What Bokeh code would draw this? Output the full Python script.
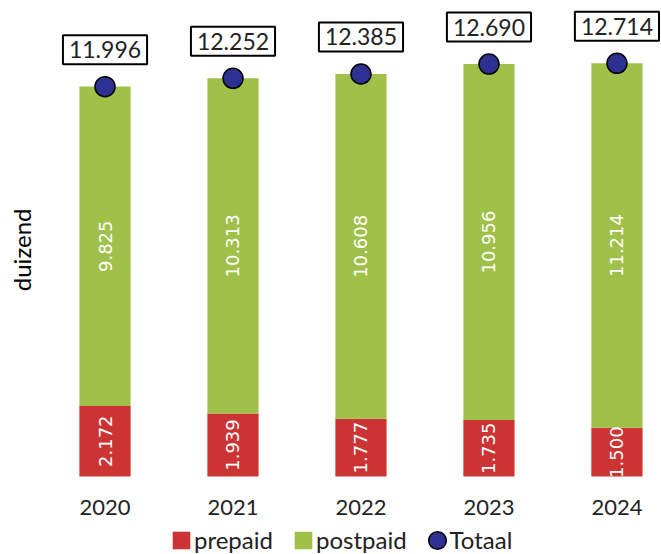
from bokeh.plotting import figure
from bokeh.models import ColumnDataSource, Legend, LegendItem, Title, FixedTicker, Range1d
from bokeh.core.properties import value
from bokeh.embed import file_html
from bokeh.resources import INLINE
import math

years = ["2020", "2021", "2022", "2023", "2024"]
prepaid = [2172, 1939, 1777, 1735, 1500]
postpaid = [9825, 10313, 10608, 10956, 11214]
totaal = [11996, 12252, 12385, 12690, 12714]

fmt = lambda v: f"{v:,}".replace(",", ".")

xs = list(range(len(years)))
src = ColumnDataSource(dict(
    x=xs,
    pre=prepaid,
    post=postpaid,
    top=[a + b for a, b in zip(prepaid, postpaid)],
    tot=totaal,
    pre_mid=[a / 2 for a in prepaid],
    post_mid=[a + b / 2 for a, b in zip(prepaid, postpaid)],
    pre_lbl=[fmt(v) for v in prepaid],
    post_lbl=[fmt(v) for v in postpaid],
    tot_lbl=[fmt(v) for v in totaal],
))

FONT = "Lato"
BAR_FONT = "DejaVu Sans"
RED = "#CC3333"
GREEN = "#A0C04A"
NAVY = "#2E3192"

p = figure(width=661, height=554, output_backend="svg", toolbar_location=None,
           x_range=Range1d(-0.504, 4.348), y_range=Range1d(-2400, 14646),
           min_border_left=40, min_border_right=0, min_border_top=0, min_border_bottom=0)

r_pre = p.vbar(x="x", bottom=0, top="pre", width=0.4, source=src, fill_color=RED, line_color=None)
r_post = p.vbar(x="x", bottom="pre", top="top", width=0.4, source=src, fill_color=GREEN, line_color=None)
r_tot = p.ellipse(x="x", y="tot", source=src, width=20, height=20,
                  width_units="screen", height_units="screen",
                  fill_color=NAVY, line_color="black", line_width=1.5)

p.text(x="x", y="pre_mid", text="pre_lbl", source=src, angle=math.pi / 2,
       text_align="center", text_baseline="middle", text_color="white",
       text_font=value(BAR_FONT), text_font_size="18px")
p.text(x="x", y="post_mid", text="post_lbl", source=src, angle=math.pi / 2,
       text_align="center", text_baseline="middle", text_color="white",
       text_font=value(BAR_FONT), text_font_size="18px")

p.text(x="x", y="tot", text="tot_lbl", source=src, y_offset=-37,
       text_align="center", text_baseline="middle",
       text_font=value(FONT), text_font_size="23px", text_color="#222222",
       background_fill_color="white", border_line_color="black",
       border_line_width=2, padding=6)

p.yaxis.visible = False
p.xgrid.visible = False
p.ygrid.visible = False
p.outline_line_color = None

xa = p.xaxis[0]
xa.fixed_location = 0
xa.ticker = FixedTicker(ticks=xs)
xa.major_label_overrides = {i: y for i, y in zip(xs, years)}
xa.axis_line_color = None
xa.major_tick_line_color = None
xa.minor_tick_line_color = None
xa.major_tick_out = 0
xa.major_tick_in = 0
xa.minor_tick_out = 0
xa.major_label_standoff = 24
xa.major_label_text_font = FONT
xa.major_label_text_font_size = "22px"
xa.major_label_text_color = "#222222"

p.add_layout(Title(text="duizend", text_font=FONT, text_font_size="24px",
                   text_font_style="normal", text_color="#000000",
                   align="right", offset=208, standoff=9), "left")

legend = Legend(items=[
    LegendItem(label="prepaid", renderers=[r_pre]),
    LegendItem(label="postpaid", renderers=[r_post]),
    LegendItem(label="Totaal", renderers=[r_tot]),
], orientation="horizontal", location=(130, 0),
    label_text_font=FONT, label_text_font_size="24px", label_text_color="#222222",
    glyph_width=22, glyph_height=22, label_standoff=2, spacing=19,
    border_line_color=None, background_fill_color=None, background_fill_alpha=0,
    padding=0, margin=0)
p.add_layout(legend, "center")

open("out.html", "w").write(file_html(p, INLINE))
